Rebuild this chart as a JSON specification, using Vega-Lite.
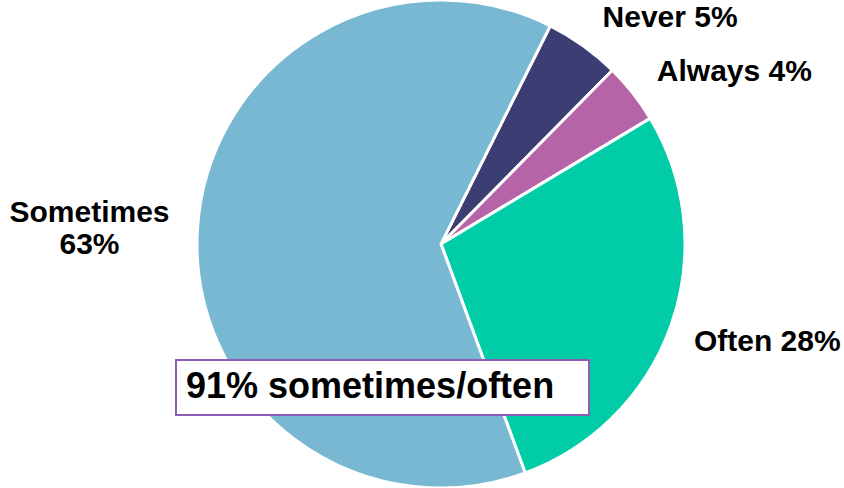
{
  "$schema": "https://vega.github.io/schema/vega-lite/v6.json",
  "width": 806,
  "height": 488,
  "autosize": "none",
  "padding": {"left": 38, "top": 0, "right": 0, "bottom": 0},
  "background": "white",
  "config": {
    "view": {"stroke": null},
    "legend": {"strokeWidth": 2}
  },
  "data": {
    "values": [
      {"cat": "Never", "pct": 5, "rank": 1, "label": "Never 5%"},
      {"cat": "Always", "pct": 4, "rank": 2, "label": "Always 4%"},
      {"cat": "Often", "pct": 28, "rank": 3, "label": "Often 28%"},
      {"cat": "Sometimes", "pct": 63, "rank": 4, "label": "Sometimes\n63%"}
    ]
  },
  "encoding": {
    "theta": {"field": "pct", "type": "quantitative", "stack": true, "scale": {"range": [0.4643, 6.7475]}},
    "order": {"field": "rank", "type": "quantitative"}
  },
  "layer": [
    {
      "mark": {"type": "arc", "strokeWidth": 3, "outerRadius": 244},
      "encoding": {
        "color": {
          "field": "cat", "type": "nominal",
          "scale": {"domain": ["Never", "Always", "Often", "Sometimes"], "range": ["#3b3d73", "#b565a7", "#00cda8", "#79b8d3"]},
          "legend": null
        },
        "stroke": {
          "datum": "91% sometimes/often",
          "type": "nominal",
          "scale": {"range": ["white"]},
          "legend": {
            "orient": "none", "legendX": 138, "legendY": 360,
            "title": "91% sometimes/often",
            "titleOrient": "left", "titleAnchor": "start", "titleBaseline": "top", "titlePadding": 0,
            "titleFont": "Liberation Sans", "titleFontSize": 36, "titleFontWeight": "bold",
            "titleColor": "black", "titleLimit": 0,
            "strokeColor": "#8e5cb6", "fillColor": "white", "padding": 10,
            "symbolSize": 576, "symbolStrokeWidth": 0, "symbolOpacity": 0, "labelOffset": 0,
            "labelExpr": "''", "labelFontSize": 1
          }
        }
      }
    },
    {
      "mark": {"type": "text", "radius": 330, "dx": 37, "dy": 42, "font": "Liberation Sans", "fontSize": 30, "fontWeight": "bold", "color": "black"},
      "encoding": {"text": {"condition": {"test": "datum.cat === 'Never'", "field": "label"}, "value": ""}}
    },
    {
      "mark": {"type": "text", "radius": 330, "dx": 34, "dy": 32, "font": "Liberation Sans", "fontSize": 30, "fontWeight": "bold", "color": "black"},
      "encoding": {"text": {"condition": {"test": "datum.cat === 'Always'", "field": "label"}, "value": ""}}
    },
    {
      "mark": {"type": "text", "radius": 330, "dx": 15, "dy": -12, "font": "Liberation Sans", "fontSize": 30, "fontWeight": "bold", "color": "black"},
      "encoding": {"text": {"condition": {"test": "datum.cat === 'Often'", "field": "label"}, "value": ""}}
    },
    {
      "mark": {"type": "text", "radius": 330, "dx": -22, "dy": -13, "font": "Liberation Sans", "fontSize": 30, "fontWeight": "bold", "color": "black", "lineBreak": "\n", "lineHeight": 32},
      "encoding": {"text": {"condition": {"test": "datum.cat === 'Sometimes'", "field": "label"}, "value": ""}}
    }
  ]
}
